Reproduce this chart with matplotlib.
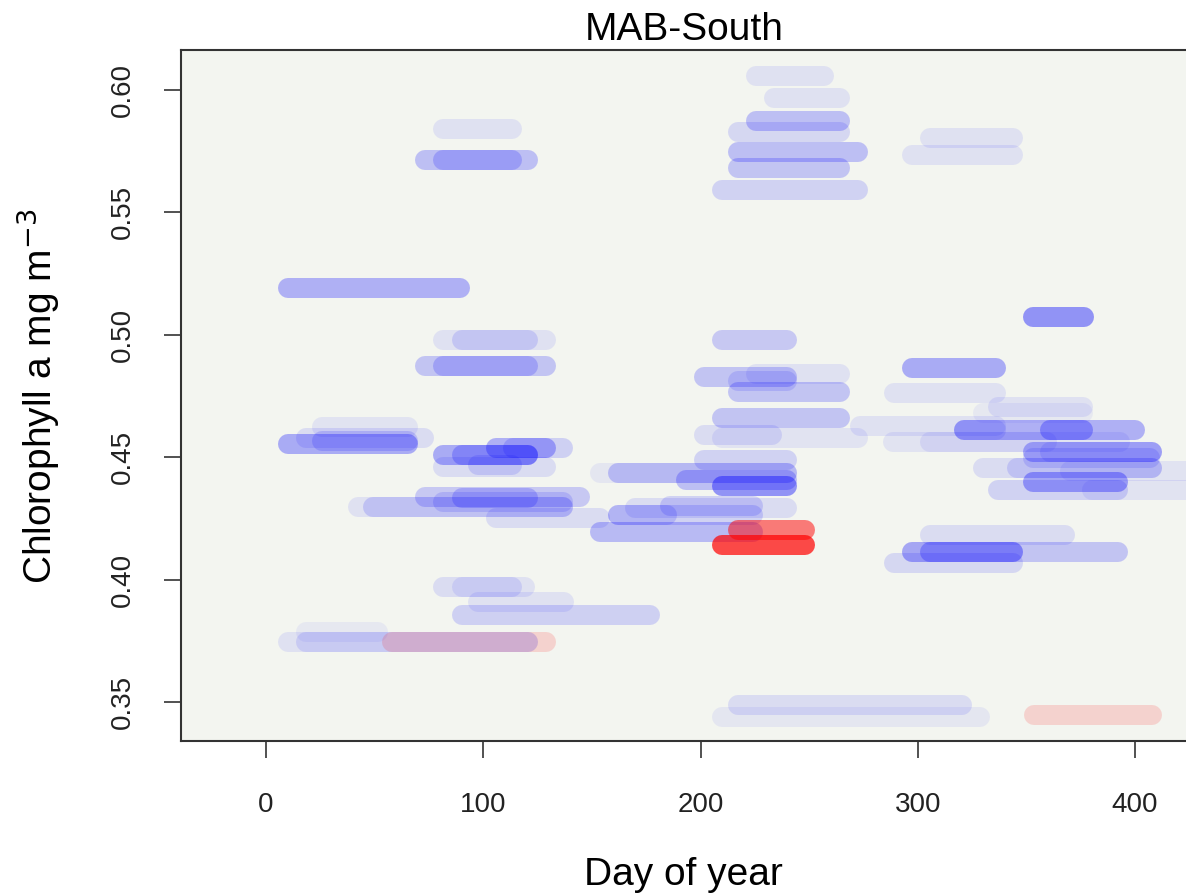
import matplotlib
matplotlib.use("Agg")
import matplotlib.pyplot as plt

# segments: start day, end day, chlorophyll level, weight (drawn as opacity)
blue_start = [81.5, 73.2, 81.5, 10.1, 81.5, 90.2, 73.2, 81.5,
              225.6, 233.9, 225.6, 217.3, 217.3, 217.3, 209.9, 305.7, 297.4,
              353.1, 209.9, 297.4, 201.7, 217.3, 225.6, 217.3, 289.1,
              209.9, 201.7, 209.9, 273.5, 337.0, 330.1,
              321.4, 321.4, 361.0, 288.7, 305.7, 353.1, 361.0, 353.1,
              330.1, 345.8, 370.0, 353.1, 337.0, 380.0,
              305.7, 297.4, 305.7, 297.4, 289.1,
              25.8, 18.4, 10.1, 25.8, 81.5, 90.2, 105.9, 113.7, 81.5, 97.6,
              73.2, 81.5, 90.2, 42.4, 49.3, 105.9, 162.1, 162.1, 153.8,
              169.9, 186.0, 162.1, 153.8, 193.4, 209.9, 201.7,
              90.2, 97.6, 81.5, 90.2, 10.1, 18.4, 18.4, 217.3, 209.9]
blue_end = [113.3, 120.6, 113.3, 89.3, 128.9, 120.6, 128.9, 120.6,
            256.9, 264.3, 264.3, 264.3, 272.6, 264.3, 272.6, 343.9, 343.9,
            376.6, 239.9, 336.1, 239.9, 239.9, 264.3, 264.3, 336.1,
            264.3, 233.0, 272.6, 336.1, 376.2, 376.2,
            400.1, 336.1, 376.2, 393.2, 359.6, 407.9, 407.9, 407.0,
            407.9, 407.9, 440.0, 392.3, 392.3, 440.0,
            367.9, 392.3, 343.9, 343.9, 343.9,
            65.4, 72.7, 65.4, 65.4, 120.6, 120.6, 128.9, 136.7, 128.9, 113.3,
            144.6, 136.7, 120.6, 136.7, 136.7, 153.8, 184.6, 224.2, 224.2,
            239.9, 224.2, 239.9, 239.9, 239.9, 239.9, 239.9,
            176.8, 137.2, 113.3, 119.0, 120.6, 120.6, 51.6, 320.4, 328.7]
blue_level = [0.5842, 0.5714, 0.5714, 0.5191, 0.4979, 0.4979, 0.4873, 0.4873,
              0.6057, 0.5966, 0.5871, 0.5830, 0.5745, 0.5683, 0.5592, 0.5803, 0.5734,
              0.5074, 0.4979, 0.4864, 0.4829, 0.4810, 0.4840, 0.4768, 0.4764,
              0.4659, 0.4591, 0.4580, 0.4626, 0.4707, 0.4680,
              0.4612, 0.4612, 0.4612, 0.4564, 0.4564, 0.4523, 0.4523, 0.4495,
              0.4455, 0.4455, 0.4445, 0.4400, 0.4366, 0.4366,
              0.4182, 0.4114, 0.4114, 0.4114, 0.4069,
              0.4625, 0.4577, 0.4553, 0.4566, 0.4509, 0.4509, 0.4536, 0.4536, 0.4461, 0.4468,
              0.4339, 0.4318, 0.4332, 0.4298, 0.4298, 0.4250, 0.4264, 0.4264, 0.4196,
              0.4291, 0.4300, 0.4434, 0.4434, 0.4407, 0.4382, 0.4489,
              0.3855, 0.3910, 0.3970, 0.3970, 0.3747, 0.3747, 0.3787, 0.3488, 0.3440]
blue_weight = [0.08, 0.22, 0.18, 0.28, 0.08, 0.12, 0.20, 0.18,
               0.08, 0.08, 0.22, 0.12, 0.22, 0.20, 0.14, 0.08, 0.08,
               0.40, 0.18, 0.30, 0.20, 0.12, 0.08, 0.20, 0.08,
               0.20, 0.10, 0.07, 0.08, 0.08, 0.05,
               0.28, 0.10, 0.28, 0.07, 0.07, 0.28, 0.10, 0.12,
               0.10, 0.12, 0.07, 0.32, 0.14, 0.07,
               0.10, 0.20, 0.25, 0.15, 0.12,
               0.07, 0.10, 0.30, 0.15, 0.30, 0.22, 0.28, 0.15, 0.10, 0.12,
               0.18, 0.13, 0.18, 0.08, 0.14, 0.10, 0.14, 0.14, 0.24,
               0.10, 0.14, 0.20, 0.06, 0.22, 0.40, 0.14,
               0.15, 0.08, 0.10, 0.08, 0.08, 0.10, 0.05, 0.10, 0.06]

red_start = [58.0, 353.6, 217.3, 209.9]
red_end = [128.9, 407.9, 248.2, 248.2]
red_level = [0.3747, 0.3448, 0.4203, 0.4141]
red_weight = [0.14, 0.14, 0.50, 0.70]

xticks = [0, 100, 200, 300, 400]
yticks = [0.35, 0.40, 0.45, 0.50, 0.55, 0.60]

plt.rcParams["font.family"] = ["Liberation Sans", "DejaVu Sans"]

fig = plt.figure(figsize=(11.86, 8.96), dpi=100)
ax = fig.add_axes([181 / 1186, 155 / 896, 1008 / 1186, 691 / 896])
ax.set_facecolor("#F3F5F0")

lw = 14.4
for x0, x1, y, a in zip(blue_start, blue_end, blue_level, blue_weight):
    ax.plot([x0, x1], [y, y], color=(0, 0, 1, a), lw=lw, solid_capstyle="round")
for x0, x1, y, a in zip(red_start, red_end, red_level, red_weight):
    ax.plot([x0, x1], [y, y], color=(1, 0, 0, a), lw=lw, solid_capstyle="round")

ax.set_xlim(-39.1, 424.8)
ax.set_ylim(0.3341, 0.6163)

ax.set_xticks(xticks)
ax.set_xticklabels([str(t) for t in xticks])
ax.set_yticks(yticks)
ax.set_yticklabels([f"{t:.2f}" for t in yticks], rotation=90, va="center")
ax.tick_params(axis="both", length=12.5, width=1.2, color="#333333",
               labelsize=20, labelcolor="#222222")
ax.tick_params(axis="x", pad=24)
ax.tick_params(axis="y", pad=20)

for side in ["left", "bottom", "top", "right"]:
    ax.spines[side].set_linewidth(1.5)
    ax.spines[side].set_color("#333333")

fig.text(684 / 1186, 1 - 30 / 896, "MAB-South", ha="center", va="center", fontsize=28)
fig.text(683 / 1186, 1 - 875 / 896, "Day of year", ha="center", va="center", fontsize=28)
fig.text(38 / 1186, 1 - 396 / 896, r"Chlorophyll a mg m$^{-3}$", rotation=90,
         ha="center", va="center", fontsize=28)

fig.savefig("out.png", dpi=100)
